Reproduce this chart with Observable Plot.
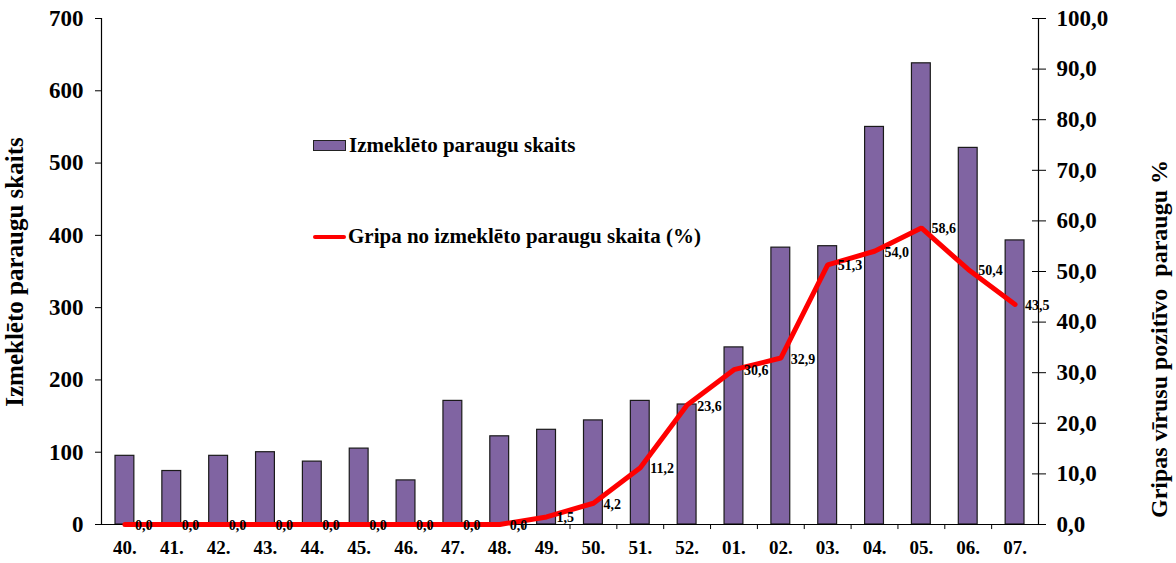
<!DOCTYPE html>
<html>
<head>
<meta charset="utf-8">
<script src="https://cdn.jsdelivr.net/npm/d3@7"></script>
<script src="https://cdn.jsdelivr.net/npm/@observablehq/plot@0.6"></script>
<style>
  body { margin: 0; background: #fff; }
  #wrap { position: relative; width: 1176px; height: 563px; font-family: "Liberation Serif", "Times New Roman", serif; font-weight: bold; }
  .leg { position: absolute; left: 313px; font-size: 21px; color: #000; display: flex; align-items: center; white-space: nowrap; }
  .sw-bar { width: 31px; height: 9px; background: #8064A2; border: 1px solid #222; margin-right: 3px; }
  .sw-line { width: 33px; height: 4px; background: #ff0000; border-radius: 2px; margin-right: 2px; }
  .ytitle { position: absolute; white-space: nowrap; transform: translate(-50%, -50%) rotate(-90deg); }
</style>
</head>
<body>
<div id="wrap">
  <div id="chart"></div>
  <div class="leg" style="top:133px"><div class="sw-bar"></div>Izmeklēto paraugu skaits</div>
  <div class="leg" style="top:224px"><div class="sw-line"></div>Gripa no izmeklēto paraugu skaita (%)</div>
  <div class="ytitle" style="left:15px; top:272px; font-size:25px">Izmeklēto paraugu skaits</div>
  <div class="ytitle" style="left:1159px; top:339px; font-size:24px">Gripas vīrusu pozitīvo&nbsp; paraugu %</div>
</div>
<script>
const weeks = ["40.","41.","42.","43.","44.","45.","46.","47.","48.","49.","50.","51.","52.","01.","02.","03.","04.","05.","06.","07."];
const samples = [95, 74, 95, 100, 87, 105, 61, 171, 122, 131, 144, 171, 166, 245, 383, 385, 550, 638, 521, 393];
const fluPct = [0.0, 0.0, 0.0, 0.0, 0.0, 0.0, 0.0, 0.0, 0.0, 1.5, 4.2, 11.2, 23.6, 30.6, 32.9, 51.3, 54.0, 58.6, 50.4, 43.5];
const leftTicks = [0, 100, 200, 300, 400, 500, 600, 700];
const rightTicks = [0, 10, 20, 30, 40, 50, 60, 70, 80, 90, 100];

const data = weeks.map((w, i) => ({week: w, n: samples[i], pct: fluPct[i]}));
const k = 7; // 100% on the right axis == 700 on the left axis

const W = 1176, H = 563, ML = 101, MR = 138, MT = 18, MB = 39;
const step = (W - ML - MR) / weeks.length;
const fmt = v => v.toFixed(1).replace(".", ",");
const font = {fontFamily: "Liberation Serif", fontWeight: "bold"};

const chart = Plot.plot({
  width: W, height: H,
  marginLeft: ML, marginRight: MR, marginTop: MT, marginBottom: MB,
  style: {fontFamily: "Liberation Serif", fontWeight: "bold", color: "#000", background: "#fff"},
  x: {domain: weeks, padding: 0, round: false, label: null},
  y: {domain: [0, 700], label: null},
  marks: [
    Plot.barY(data, {x: "week", y: "n", fill: "#8064A2", stroke: "#1a1a1a", strokeWidth: 1.2, insetLeft: 14, insetRight: 14}),
    Plot.ruleY([0], {stroke: "#000", strokeWidth: 1.2}),
    Plot.ruleX([weeks[0]], {dx: -step / 2, y1: 0, y2: 700, stroke: "#000", strokeWidth: 1.2}),
    Plot.ruleX([weeks[weeks.length - 1]], {dx: step / 2, y1: 0, y2: 700, stroke: "#000", strokeWidth: 1.2}),
    Plot.ruleX(weeks.slice(1), {x: d => d, dx: -step / 2, y1: 0, y2: -7, stroke: "#000"}),
    Plot.axisY({anchor: "left", ticks: leftTicks, tickSize: 6, tickPadding: 12, fontSize: 23, ...font, label: null}),
    Plot.axisY({anchor: "right", ticks: rightTicks.map(v => v * k), tickFormat: d => fmt(d / k), tickSize: 7, tickPadding: 11, fontSize: 23, ...font, label: null}),
    Plot.axisY({anchor: "right", ticks: rightTicks.map(v => v * k), tickFormat: () => "", tickSize: -7, label: null}),
    Plot.axisX({tickSize: 0, tickPadding: 16, fontSize: 19, ...font, label: null}),
    Plot.line(data, {x: "week", y: d => d.pct * k, stroke: "#ff0000", strokeWidth: 5, strokeLinejoin: "miter"}),
    Plot.text(data, {x: "week", y: d => d.pct * k, text: d => fmt(d.pct), textAnchor: "start", dx: 10, dy: 1, fontSize: 14, ...font, fill: "#000"})
  ]
});
document.getElementById("chart").appendChild(chart);
</script>
</body>
</html>
